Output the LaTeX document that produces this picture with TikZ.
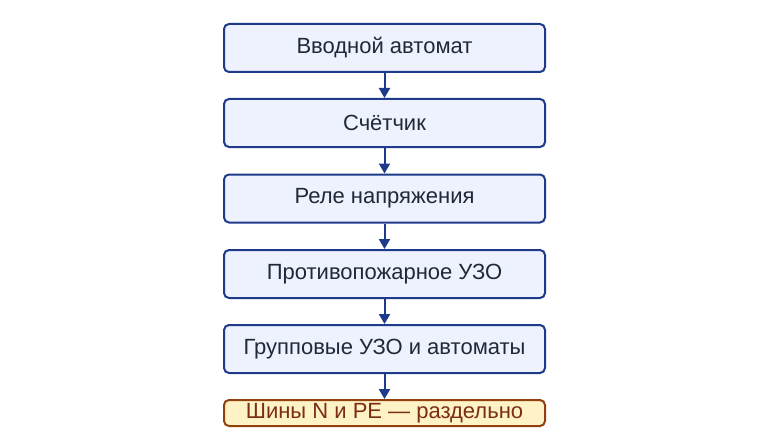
\documentclass[tikz,border=0pt]{standalone}
\usepackage{fontspec}
\setmainfont{Liberation Sans}
\usetikzlibrary{arrows.meta}
\definecolor{bfill}{HTML}{EEF2FF}
\definecolor{bdraw}{HTML}{1E3A8A}
\definecolor{btext}{HTML}{1F2937}
\definecolor{yfill}{HTML}{FEF3C7}
\definecolor{ydraw}{HTML}{92400E}
\definecolor{ytext}{HTML}{7C2D12}
\begin{document}
\begin{tikzpicture}[x=1pt,y=-1pt,
  box/.style={draw=bdraw,fill=bfill,line width=2pt,rounded corners=5pt,minimum width=321pt,minimum height=48pt,text=btext,font=\fontsize{22}{24}\selectfont,inner sep=0pt},
  note/.style={box,draw=ydraw,fill=yfill,text=ytext,minimum height=26pt},
  arr/.style={draw=bdraw,line width=2pt,-{Triangle[length=10pt,width=11pt]}}]
\useasboundingbox (0,0) rectangle (770,433);
\node[box] (a) at (384.5,48) {Вводной автомат};
\node[box] (b) at (384.5,123) {Счётчик};
\node[box] (c) at (384.5,198.5) {Реле напряжения};
\node[box] (d) at (384.5,274) {Противопожарное УЗО};
\node[box] (e) at (384.5,349) {Групповые УЗО и автоматы};
\node[note] (f) at (384.5,413) {Шины N и PE — раздельно};
\draw[arr] (a) -- (b);
\draw[arr] (b) -- (c);
\draw[arr] (c) -- (d);
\draw[arr] (d) -- (e);
\draw[arr] (e) -- (f);
\end{tikzpicture}
\end{document}
